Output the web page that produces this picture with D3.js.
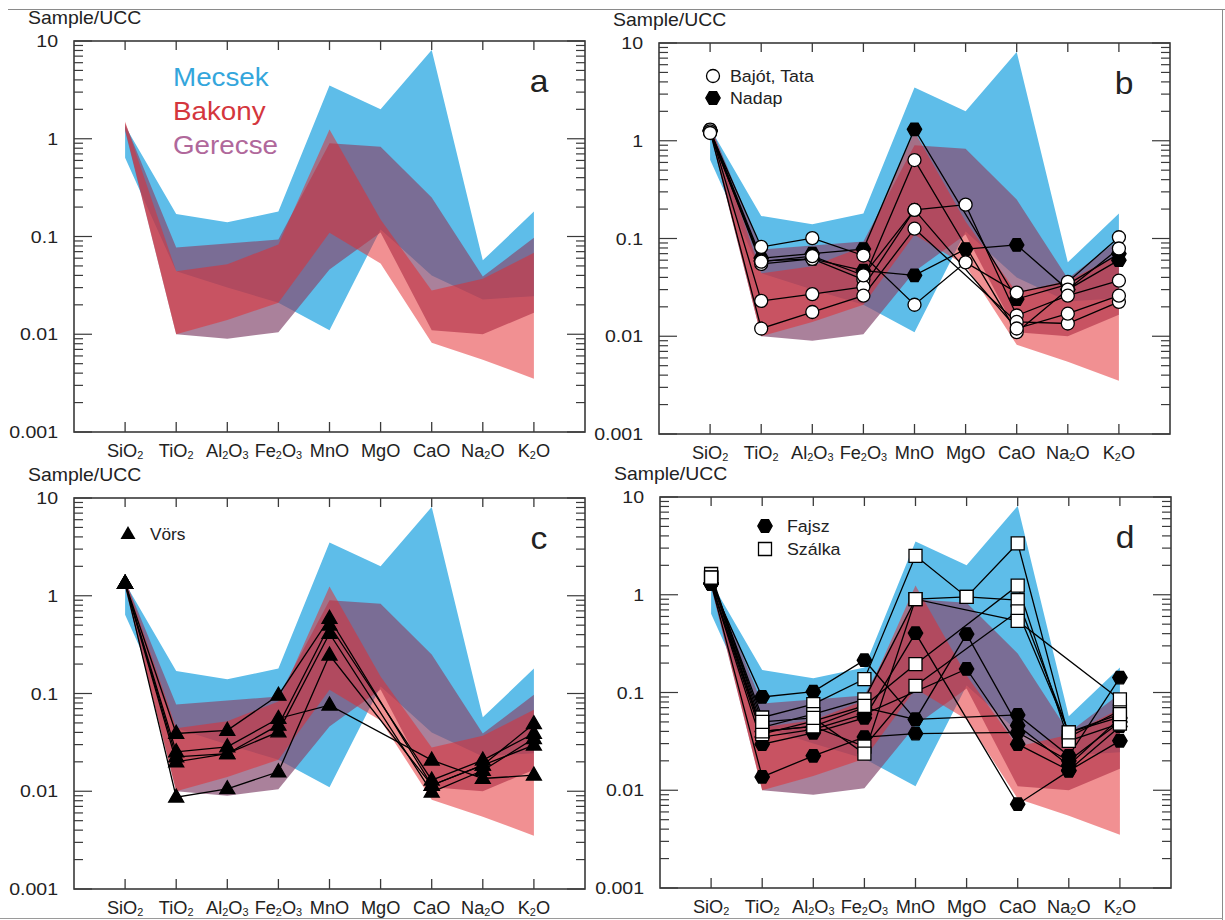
<!DOCTYPE html>
<html>
<head>
<meta charset="utf-8">
<script src="https://cdn.jsdelivr.net/npm/d3@7"></script>
<style>
  body { margin: 0; background: #fff; }
  text { font-family: "Liberation Sans", Arial, sans-serif; }
</style>
</head>
<body>
<svg id="fig" width="1225" height="920"></svg>
<script>
// ---- categories and axis labels ----
const oxides = ["SiO2", "TiO2", "Al2O3", "Fe2O3", "MnO", "MgO", "CaO", "Na2O", "K2O"];
const yTickValues = [10, 1, 0.1, 0.01, 0.001];
const yTickLabels = ["10", "1", "0.1", "0.01", "0.001"];

// ---- UCC-normalised envelopes of the three regions ----
const mecsekUpper  = [1.35, 0.17, 0.14, 0.18, 3.5, 2.0, 8.1, 0.057, 0.18];
const mecsekLower  = [0.64, 0.044, 0.030, 0.021, 0.011, 0.118, 0.040, 0.0227, 0.0245];
const gerecseUpper = [1.45, 0.077, 0.085, 0.093, 0.90, 0.83, 0.25, 0.039, 0.097];
const gerecseLower = [1.20, 0.010, 0.009, 0.0105, 0.046, 0.11, 0.011, 0.010, 0.0166];
const bakonyUpper  = [1.50, 0.044, 0.052, 0.083, 1.24, 0.149, 0.028, 0.037, 0.068];
const bakonyLower  = [1.25, 0.010, 0.014, 0.021, 0.109, 0.053, 0.0082, 0.0055, 0.0035];

// ---- sample patterns (null = not plotted) ----
const bajotTata = [
  [1.25, 0.082, 0.101, 0.067, 0.021, 0.057, 0.028, 0.036, 0.103],
  [1.22, 0.055, 0.062, 0.038, 0.635, null, 0.011, 0.030, 0.079],
  [1.30, 0.023, 0.027, 0.032, 0.196, 0.222, 0.0163, 0.026, 0.037],
  [1.25, 0.012, 0.0177, 0.026, 0.126, null, 0.014, 0.0135, 0.0225],
  [1.20, 0.058, 0.066, 0.042, 0.196, null, 0.012, 0.017, 0.026]
];
const nadap = [
  [1.28, 0.063, 0.070, 0.078, 1.31, null, 0.024, 0.034, 0.070],
  [1.25, 0.059, 0.062, 0.047, 0.042, 0.078, 0.086, 0.030, 0.060]
];
const vors = [
  [1.34, 0.039, 0.042, 0.096, 0.586, null, 0.0115, 0.0185, 0.049],
  [1.34, 0.0253, 0.0284, 0.0555, 0.076, null, 0.0208, 0.0135, 0.0146],
  [1.34, 0.0225, 0.0243, 0.0474, 0.50, null, 0.013, 0.0208, 0.039],
  [1.34, 0.020, 0.0243, 0.0405, 0.411, null, 0.0098, 0.0163, 0.0346],
  [1.34, 0.0087, 0.0106, 0.0158, 0.247, null, 0.0115, 0.0185, 0.0296]
];
const fajsz = [
  [1.30, 0.090, 0.102, 0.214, 0.053, null, 0.059, 0.0225, 0.142],
  [1.30, 0.0296, 0.0387, 0.055, 0.405, null, 0.0072, 0.0158, 0.032],
  [1.30, 0.0137, 0.0225, 0.035, 0.038, null, 0.039, 0.020, 0.050],
  [1.30, 0.040, 0.045, 0.070, 0.053, 0.396, 0.046, 0.018, 0.055],
  [1.30, 0.035, 0.042, 0.060, null, 0.174, 0.0296, 0.016, 0.045]
];
const szalka = [
  [1.50, 0.0555, 0.076, 0.137, 2.5, 0.95, 3.36, 0.035, 0.065],
  [1.63, 0.044, 0.060, 0.085, 0.90, 0.95, 0.88, 0.039, 0.056],
  [1.50, 0.0376, 0.051, 0.073, 0.195, null, 1.24, 0.032, 0.048],
  [1.50, 0.040, 0.045, 0.028, 0.117, null, 0.675, 0.039, 0.060],
  [1.50, 0.050, 0.055, 0.0237, 0.90, null, 0.54, null, 0.085]
];

// ---- styling ----
const colMecsek = "#5ebde9";
const colGerecse = "rgba(134,76,112,0.7)";
const colBakony = "rgba(228,42,46,0.52)";
const axisCol = "#3a3a3a";
const textCol = "#222";
const SX = 1.08; // glyphs are drawn slightly wide

const W = 511, H = 391;
const panels = [
  { id: "a", x: 74,  y: 41 },
  { id: "b", x: 659, y: 43 },
  { id: "c", x: 74,  y: 498 },
  { id: "d", x: 660, y: 497 }
];

const svg = d3.select("#fig");

// page frame lines
svg.append("line").attr("x1", 8).attr("x2", 1225).attr("y1", 9.5).attr("y2", 9.5)
  .attr("stroke", "#8a8a8a").attr("stroke-width", 1);
svg.append("line").attr("x1", 1222.5).attr("x2", 1222.5).attr("y1", 9).attr("y2", 920)
  .attr("stroke", "#8a8a8a").attr("stroke-width", 1);
svg.append("line").attr("x1", 0).attr("x2", 1223).attr("y1", 918.5).attr("y2", 918.5)
  .attr("stroke", "#9a9a9a").attr("stroke-width", 1);

const x = d3.scalePoint().domain(oxides).range([0, W]).padding(1);
const y = d3.scaleLog().domain([0.001, 10]).range([H, 0]);

// text placed in its own group so it can be widened horizontally
function wideText(g, tx, ty, size, anchor, sx) {
  return g.append("g").attr("transform", `translate(${tx},${ty}) scale(${sx || SX},1)`)
    .append("text").attr("x", 0).attr("y", 0)
    .attr("font-size", size).attr("text-anchor", anchor || "start").attr("fill", textCol);
}

function oxideText(sel, name) {
  const parts = name.match(/[A-Za-z]+|\d+/g);
  let sub = false;
  parts.forEach(p => {
    const isNum = /\d/.test(p);
    const t = sel.append("tspan").text(p);
    if (isNum) { t.attr("font-size", 10.5).attr("dy", sub ? 0 : 2); sub = true; }
    else { if (sub) t.attr("dy", -2); sub = false; }
  });
}

function hexPath(r) {
  const pts = d3.range(6).map(k => {
    const a = Math.PI / 3 * k;
    return [r * Math.cos(a), r * Math.sin(a)];
  });
  return "M" + pts.map(p => p.join(",")).join("L") + "Z";
}
function triPath(s) {
  const h = s * Math.sqrt(3) / 2;
  return `M0,${-h * 0.62}L${s / 2},${h * 0.38}L${-s / 2},${h * 0.38}Z`;
}
function squarePath(s) {
  return `M${-s / 2},${-s / 2}h${s}v${s}h${-s}Z`;
}
const markers = {
  circle: { path: d3.symbol(d3.symbolCircle, Math.PI * 6.5 * 6.5)(), fill: "#fff" },
  hex: { path: hexPath(7.2), fill: "#000" },
  tri: { path: triPath(15), fill: "#000" },
  square: { path: squarePath(13), fill: "#fff" }
};

function drawEnvelope(g, upper, lower, fill) {
  const rows = oxides.map((o, i) => ({ o, lo: lower[i], hi: upper[i] }));
  const area = d3.area().x(d => x(d.o)).y0(d => y(d.lo)).y1(d => y(d.hi));
  g.append("path").attr("d", area(rows)).attr("fill", fill).attr("stroke", "none");
}

function drawSamples(g, samples, marker) {
  const line = d3.line().x(d => x(d.o)).y(d => y(d.v));
  const rows = samples.map(s => oxides.map((o, i) => ({ o, v: s[i] })).filter(d => d.v != null));
  rows.forEach(pts => {
    g.append("path").attr("d", line(pts)).attr("fill", "none")
      .attr("stroke", "#000").attr("stroke-width", 1.3);
  });
  rows.forEach(pts => {
    g.selectAll(null).data(pts).join("path")
      .attr("d", markers[marker].path)
      .attr("transform", d => `translate(${x(d.o)},${y(d.v)})`)
      .attr("fill", markers[marker].fill)
      .attr("stroke", "#000").attr("stroke-width", 1.3);
  });
}

function drawAxes(g) {
  // minor + major log ticks on left and right, inward
  const ticks = [];
  for (let e = -3; e <= 0; e++) {
    for (let m = 1; m <= 9; m++) ticks.push({ v: m * Math.pow(10, e), major: m === 1 });
  }
  ticks.push({ v: 10, major: true });
  ticks.forEach(t => {
    const yy = y(t.v);
    const len = t.major ? 18 : 9;
    g.append("line").attr("x1", 0).attr("x2", len).attr("y1", yy).attr("y2", yy)
      .attr("stroke", axisCol).attr("stroke-width", 1.2);
    g.append("line").attr("x1", W).attr("x2", W - len).attr("y1", yy).attr("y2", yy)
      .attr("stroke", axisCol).attr("stroke-width", 1.2);
  });
  // category ticks top and bottom
  oxides.forEach(o => {
    g.append("line").attr("x1", x(o)).attr("x2", x(o)).attr("y1", H).attr("y2", H - 10)
      .attr("stroke", axisCol).attr("stroke-width", 1.3);
    g.append("line").attr("x1", x(o)).attr("x2", x(o)).attr("y1", 0).attr("y2", 9)
      .attr("stroke", axisCol).attr("stroke-width", 1.3);
  });
  g.append("rect").attr("x", 0).attr("y", 0).attr("width", W).attr("height", H)
    .attr("fill", "none").attr("stroke", axisCol).attr("stroke-width", 1.6);

  // y tick labels
  yTickValues.forEach((v, i) => {
    wideText(g, -16, y(v) + 6, 17, "end", 1.15).text(yTickLabels[i]);
  });
  // category labels
  oxides.forEach(o => {
    oxideText(wideText(g, x(o), H + 25, 17.5, "middle", 1.04), o);
  });
  wideText(g, -46, -17, 18, "start", 1.08).text("Sample/UCC");
}

panels.forEach(p => {
  const g = svg.append("g").attr("transform", `translate(${p.x},${p.y})`);
  const env = g.append("g");
  drawEnvelope(env, mecsekUpper, mecsekLower, colMecsek);
  drawEnvelope(env, gerecseUpper, gerecseLower, colGerecse);
  drawEnvelope(env, bakonyUpper, bakonyLower, colBakony);

  drawAxes(g);

  wideText(g, 465, 51, 32, "middle", 1.05).text(p.id);

  if (p.id === "a") {
    const leg = [["Mecsek", "#34a6dc"], ["Bakony", "#d4363d"], ["Gerecse", "#b0689b"]];
    leg.forEach((d, i) => {
      wideText(g, 99, 45 + i * 34, 25.5, "start", 1.09).attr("fill", d[1]).text(d[0]);
    });
  }
  if (p.id === "b") {
    drawSamples(g, nadap, "hex");
    drawSamples(g, bajotTata, "circle");
    const leg = [["circle", "Bajót, Tata"], ["hex", "Nadap"]];
    leg.forEach((d, i) => {
      g.append("path").attr("d", markers[d[0]].path)
        .attr("transform", `translate(54,${33 + i * 22})`)
        .attr("fill", markers[d[0]].fill).attr("stroke", "#000").attr("stroke-width", 1.3);
      wideText(g, 71, 39 + i * 22, 16.5).text(d[1]);
    });
  }
  if (p.id === "c") {
    drawSamples(g, vors, "tri");
    g.append("path").attr("d", markers.tri.path).attr("transform", "translate(54,36)")
      .attr("fill", "#000");
    wideText(g, 76, 42, 16).text("Vörs");
  }
  if (p.id === "d") {
    drawSamples(g, fajsz, "hex");
    drawSamples(g, szalka, "square");
    const leg = [["hex", "Fajsz"], ["square", "Szálka"]];
    leg.forEach((d, i) => {
      g.append("path").attr("d", markers[d[0]].path)
        .attr("transform", `translate(105,${29 + i * 23})`)
        .attr("fill", markers[d[0]].fill).attr("stroke", "#000").attr("stroke-width", 1.3);
      wideText(g, 127, 35 + i * 23, 16.5).text(d[1]);
    });
  }
});
</script>
</body>
</html>
